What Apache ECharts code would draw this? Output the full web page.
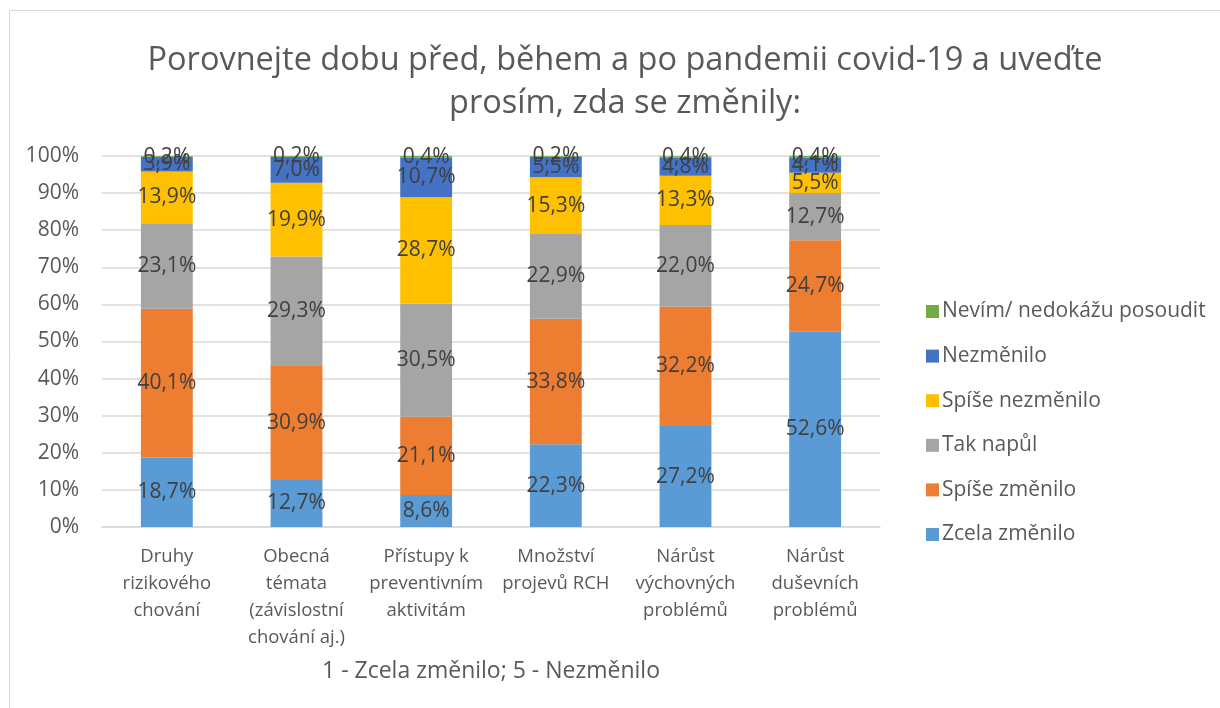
<!DOCTYPE html>
<html>
<head>
<meta charset="utf-8">
<script src="https://cdn.jsdelivr.net/npm/echarts@6/dist/echarts.min.js"></script>
<style>
  html, body { margin: 0; padding: 0; background: #fff; }
  #chart { width: 1220px; height: 708px; }
</style>
</head>
<body>
<div id="chart"></div>
<script>
  var categories = [
    "Druhy\nrizikového\nchování",
    "Obecná\ntémata\n(závislostní\nchování aj.)",
    "Přístupy k\npreventivním\naktivitám",
    "Množství\nprojevů RCH",
    "Nárůst\nvýchovných\nproblémů",
    "Nárůst\nduševních\nproblémů"
  ];
  var seriesNames = ["Zcela změnilo", "Spíše změnilo", "Tak napůl", "Spíše nezměnilo", "Nezměnilo", "Nevím/ nedokážu posoudit"];
  var zcelaZmenilo = [18.7, 12.7, 8.6, 22.3, 27.2, 52.6];
  var spiseZmenilo = [40.1, 30.9, 21.1, 33.8, 32.2, 24.7];
  var takNapul = [23.1, 29.3, 30.5, 22.9, 22.0, 12.7];
  var spiseNezmenilo = [13.9, 19.9, 28.7, 15.3, 13.3, 5.5];
  var nezmenilo = [3.9, 7.0, 10.7, 5.5, 4.8, 4.1];
  var nevim = [0.2, 0.2, 0.4, 0.2, 0.4, 0.4];
  var colors = ["#5B9BD5", "#ED7D31", "#A5A5A5", "#FFC000", "#4472C4", "#70AD47"];
  var yTicks = [0, 10, 20, 30, 40, 50, 60, 70, 80, 90, 100];

  var FONT = "'Open Sans', Lato, sans-serif";
  var values = [zcelaZmenilo, spiseZmenilo, takNapul, spiseNezmenilo, nezmenilo, nevim];

  function pct(v) {
    return v.toFixed(1).replace(".", ",") + "%";
  }

  var series = seriesNames.map(function (name, i) {
    return {
      name: name,
      type: "bar",
      stack: "all",
      barWidth: "40%",
      data: values[i],
      itemStyle: { color: colors[i] },
      label: {
        show: true,
        position: "inside",
        fontFamily: FONT,
        fontSize: 21,
        color: "#404040",
        formatter: function (p) { return pct(p.value); }
      }
    };
  });

  var chart = echarts.init(document.getElementById("chart"), null, { renderer: "canvas" });
  chart.setOption({
    animation: false,
    color: colors,
    textStyle: { fontFamily: FONT },
    graphic: [{
      type: "rect",
      shape: { x: 9.5, y: 10.5, width: 1300, height: 800 },
      style: { fill: "none", stroke: "#d9d9d9", lineWidth: 1 },
      silent: true
    }],
    title: {
      text: "Porovnejte dobu před, během a po pandemii covid-19 a uveďte\nprosím, zda se změnily:",
      left: 620,
      top: 34,
      textAlign: "center",
      textStyle: { fontFamily: FONT, fontSize: 32.5, fontWeight: "normal", color: "#595959", lineHeight: 43 }
    },
    legend: {
      orient: "vertical",
      left: 921,
      top: 296,
      itemWidth: 13,
      itemHeight: 13,
      itemGap: 23.6,
      icon: "rect",
      data: seriesNames.slice().reverse(),
      textStyle: { fontFamily: FONT, fontSize: 21, color: "#595959", padding: [0, 0, 0, -2] }
    },
    grid: { left: 102, right: 340, top: 156, bottom: 181 },
    xAxis: {
      type: "category",
      data: categories,
      name: "1 - Zcela změnilo; 5 - Nezměnilo",
      nameLocation: "middle",
      nameGap: 133,
      nameTextStyle: { fontFamily: FONT, fontSize: 23, color: "#595959" },
      axisLine: { lineStyle: { color: "#d9d9d9", width: 1.5 } },
      axisTick: { show: false },
      axisLabel: { fontFamily: FONT, fontSize: 18.5, color: "#595959", lineHeight: 27, margin: 16, interval: 0 }
    },
    yAxis: {
      type: "value",
      min: 0,
      max: 100,
      interval: 10,
      axisLine: { show: false },
      axisTick: { show: false },
      splitLine: { lineStyle: { color: "#d9d9d9", width: 1.5 } },
      axisLabel: {
        fontFamily: FONT,
        fontSize: 21,
        color: "#595959",
        margin: 23,
        formatter: function (v) { return yTicks.indexOf(v) >= 0 ? v + "%" : ""; }
      }
    },
    series: series
  });
</script>
</body>
</html>
